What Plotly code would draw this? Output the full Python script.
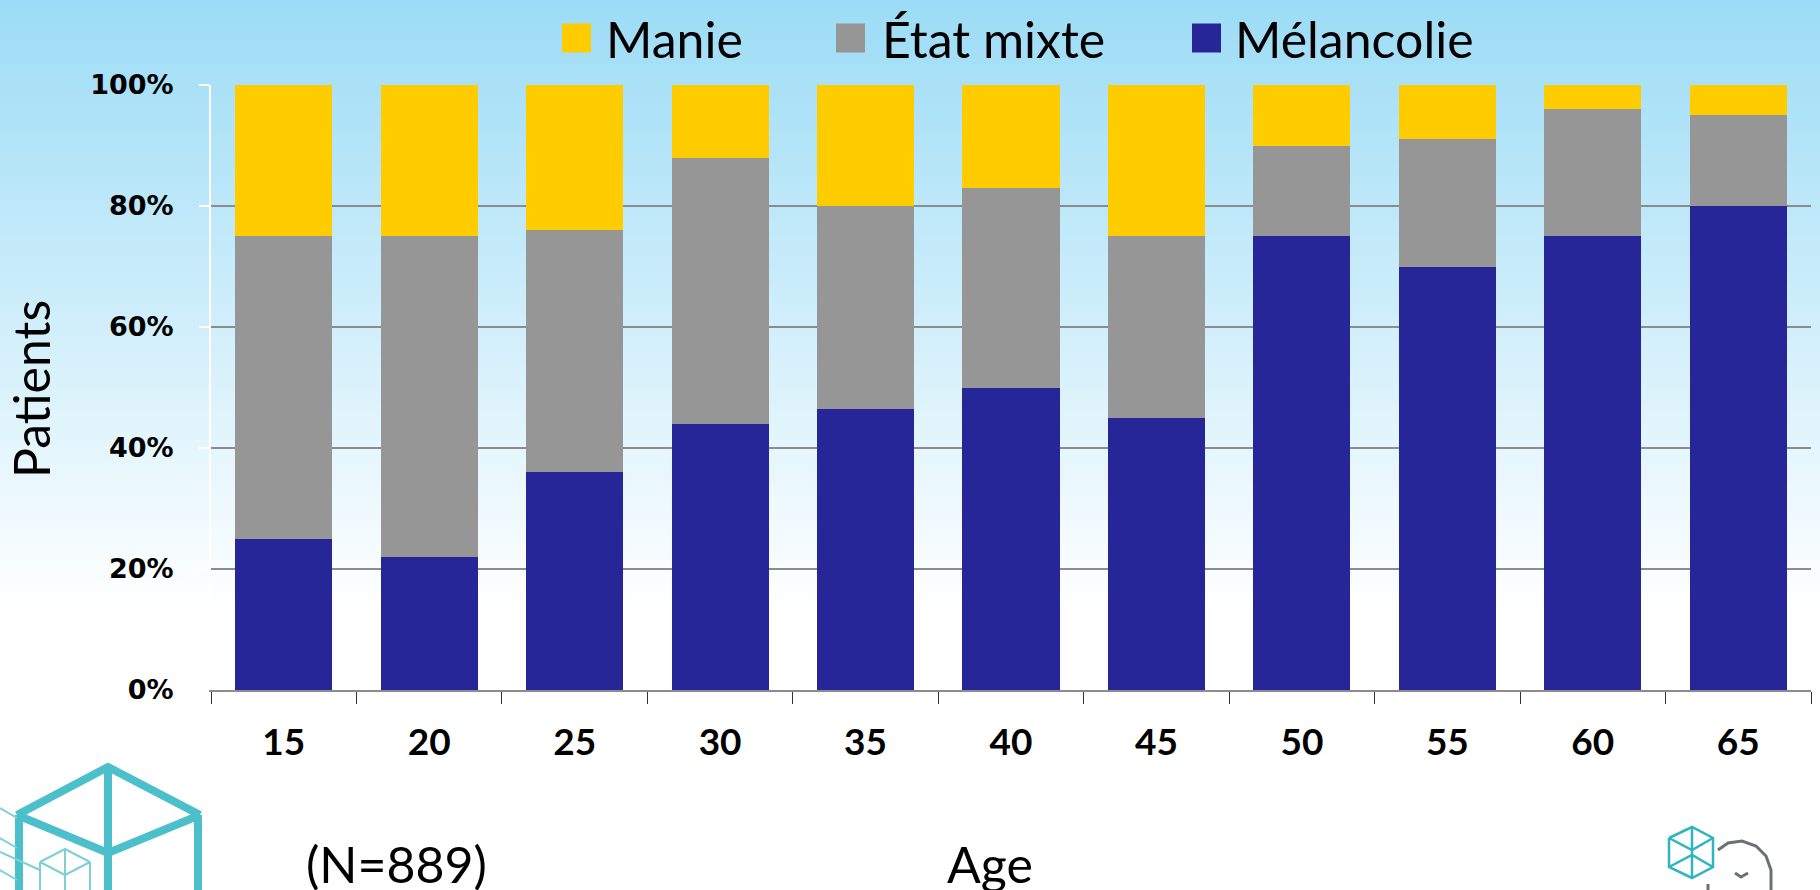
import plotly.graph_objects as go

# ---------------- data ----------------
ages = ["15", "20", "25", "30", "35", "40", "45", "50", "55", "60", "65"]
melancolie = [25, 22, 36, 44, 46.5, 50, 45, 75, 70, 75, 80]
etat_mixte = [50, 53, 40, 44, 33.5, 33, 30, 15, 21, 21, 15]
manie = [25, 25, 24, 12, 20, 17, 25, 10, 9, 4, 5]
series_names = ["Manie", "État mixte", "Mélancolie"]
series_colors = ["#FFCC00", "#969696", "#262699"]
y_ticks = [0, 20, 40, 60, 80, 100]

W, H = 1820, 890
L, R, T, B = 211, 9, 85, 200
PW, PH = W - L - R, H - T - B


def px(x):
    return (x - L) / PW


def py(y):
    return (H - B - y) / PH


fig = go.Figure()
for name, vals, col in [(series_names[2], melancolie, series_colors[2]),
                        (series_names[1], etat_mixte, series_colors[1]),
                        (series_names[0], manie, series_colors[0])]:
    fig.add_trace(go.Bar(x=ages, y=vals, name=name, marker=dict(color=col, line=dict(width=0)),
                         showlegend=False))

shapes = []
# background gradient (light sky blue at top to white)
top = (156, 220, 246)
end_y = 610
step = 5
for y0 in range(0, end_y, step):
    t = (y0 + step / 2) / end_y
    c = tuple(int(round(top[i] + (255 - top[i]) * t)) for i in range(3))
    shapes.append(dict(type="rect", xref="paper", yref="paper", layer="below",
                       x0=px(0), x1=px(W), y0=py(y0 + step + 0.5), y1=py(y0),
                       fillcolor="rgb(%d,%d,%d)" % c, line=dict(width=0)))

# manual legend
leg_sq_x = [562, 836, 1192]
leg_txt_x = [604, 880, 1233]
leg_y = 38
annotations = []
for i, name in enumerate(series_names):
    shapes.append(dict(type="rect", xref="paper", yref="paper",
                       x0=px(leg_sq_x[i]), x1=px(leg_sq_x[i] + 29),
                       y0=py(leg_y + 14.5), y1=py(leg_y - 14.5),
                       fillcolor=series_colors[i], line=dict(width=0)))
    annotations.append(dict(text=name, xref="paper", yref="paper", x=px(leg_txt_x[i]), y=py(leg_y + 1),
                            xanchor="left", yanchor="middle", showarrow=False,
                            font=dict(family="Lato, Open Sans, sans-serif", size=50, color="#000")))


def path(points, close=False):
    s = "M " + " L ".join("%f,%f" % (px(x), py(y)) for x, y in points)
    return s + (" Z" if close else "")


teal = "#4CC0CA"
# large cube logo bottom-left
big = [
    [(17, 815), (108, 767), (200, 815)],
    [(17, 815), (108, 853), (200, 815)],
    [(108, 767), (108, 895)],
    [(19, 815), (19, 895)],
    [(198, 815), (198, 895)],
]
for p in big:
    shapes.append(dict(type="path", xref="paper", yref="paper", path=path(p),
                       line=dict(color=teal, width=8)))
small = [
    [(40, 862), (65, 849), (90, 862)],
    [(40, 862), (65, 875), (90, 862)],
    [(65, 849), (65, 895)],
    [(40, 862), (40, 895)],
    [(90, 862), (90, 895)],
    [(0, 808), (17, 818)],
    [(0, 838), (17, 848)],
    [(0, 852), (40, 870)],
    [(0, 870), (17, 880)],
]
for p in small:
    shapes.append(dict(type="path", xref="paper", yref="paper", path=path(p),
                       line=dict(color="#7FD0D6", width=2)))

# small logo bottom-right
cube2 = [
    [(1669, 838), (1692, 827), (1713, 838), (1713, 867), (1692, 878), (1669, 867), (1669, 838)],
    [(1669, 838), (1692, 850), (1713, 838)],
    [(1669, 867), (1692, 855), (1713, 867)],
    [(1692, 827), (1692, 878)],
]
for p in cube2:
    shapes.append(dict(type="path", xref="paper", yref="paper", path=path(p),
                       line=dict(color="#2FB5C0", width=2.5)))
arc = [(1718, 850), (1728, 843), (1742, 841), (1756, 846), (1766, 856), (1771, 870), (1771, 890)]
shapes.append(dict(type="path", xref="paper", yref="paper", path=path(arc),
                   line=dict(color="#6A7078", width=3)))
shapes.append(dict(type="path", xref="paper", yref="paper",
                   path=path([(1735, 873), (1741, 877), (1748, 873)]),
                   line=dict(color="#6A7078", width=3)))
shapes.append(dict(type="path", xref="paper", yref="paper",
                   path=path([(1708, 884), (1708, 892)]),
                   line=dict(color="#6A7078", width=3)))

txt_font = dict(family="Lato, Open Sans, sans-serif", size=50, color="#000")
annotations += [
    dict(text="Patients", xref="paper", yref="paper", x=px(31), y=py(389), textangle=-90,
         xanchor="center", yanchor="middle", showarrow=False, font=txt_font),
    dict(text="Age", xref="paper", yref="paper", x=px(990), y=py(864),
         xanchor="center", yanchor="middle", showarrow=False, font=txt_font),
    dict(text="(N=889)", xref="paper", yref="paper", x=px(396), y=py(864),
         xanchor="center", yanchor="middle", showarrow=False, font=txt_font),
]

fig.update_layout(
    width=W, height=H,
    margin=dict(l=L, r=R, t=T, b=B, pad=0),
    barmode="stack", bargap=0.333,
    paper_bgcolor="white", plot_bgcolor="rgba(0,0,0,0)",
    showlegend=False,
    shapes=shapes, annotations=annotations,
    xaxis=dict(type="category", tickson="boundaries", showgrid=False,
               showline=True, linecolor="#8C8C8C", linewidth=2,
               ticks="outside", ticklen=12, tickcolor="#333", tickwidth=1,
               ticklabelstandoff=19,
               tickfont=dict(family="Lato, Open Sans, sans-serif", size=37, color="#000", weight="bold")),
    yaxis=dict(range=[0, 100], tickvals=y_ticks, ticktext=["%d%%" % v for v in y_ticks],
               showgrid=True, gridcolor="#8C8C8C", gridwidth=2, zeroline=False,
               showline=True, linecolor="white", linewidth=2,
               ticks="outside", ticklen=10, tickcolor="white", tickwidth=2,
               ticklabelstandoff=20,
               tickfont=dict(family="DejaVu Sans, Verdana, sans-serif", size=27, color="#000", weight="bold")),
)

fig.write_html("out.html", config={"displayModeBar": False},
               post_script="document.body.style.margin='0';document.body.style.overflow='hidden';")
